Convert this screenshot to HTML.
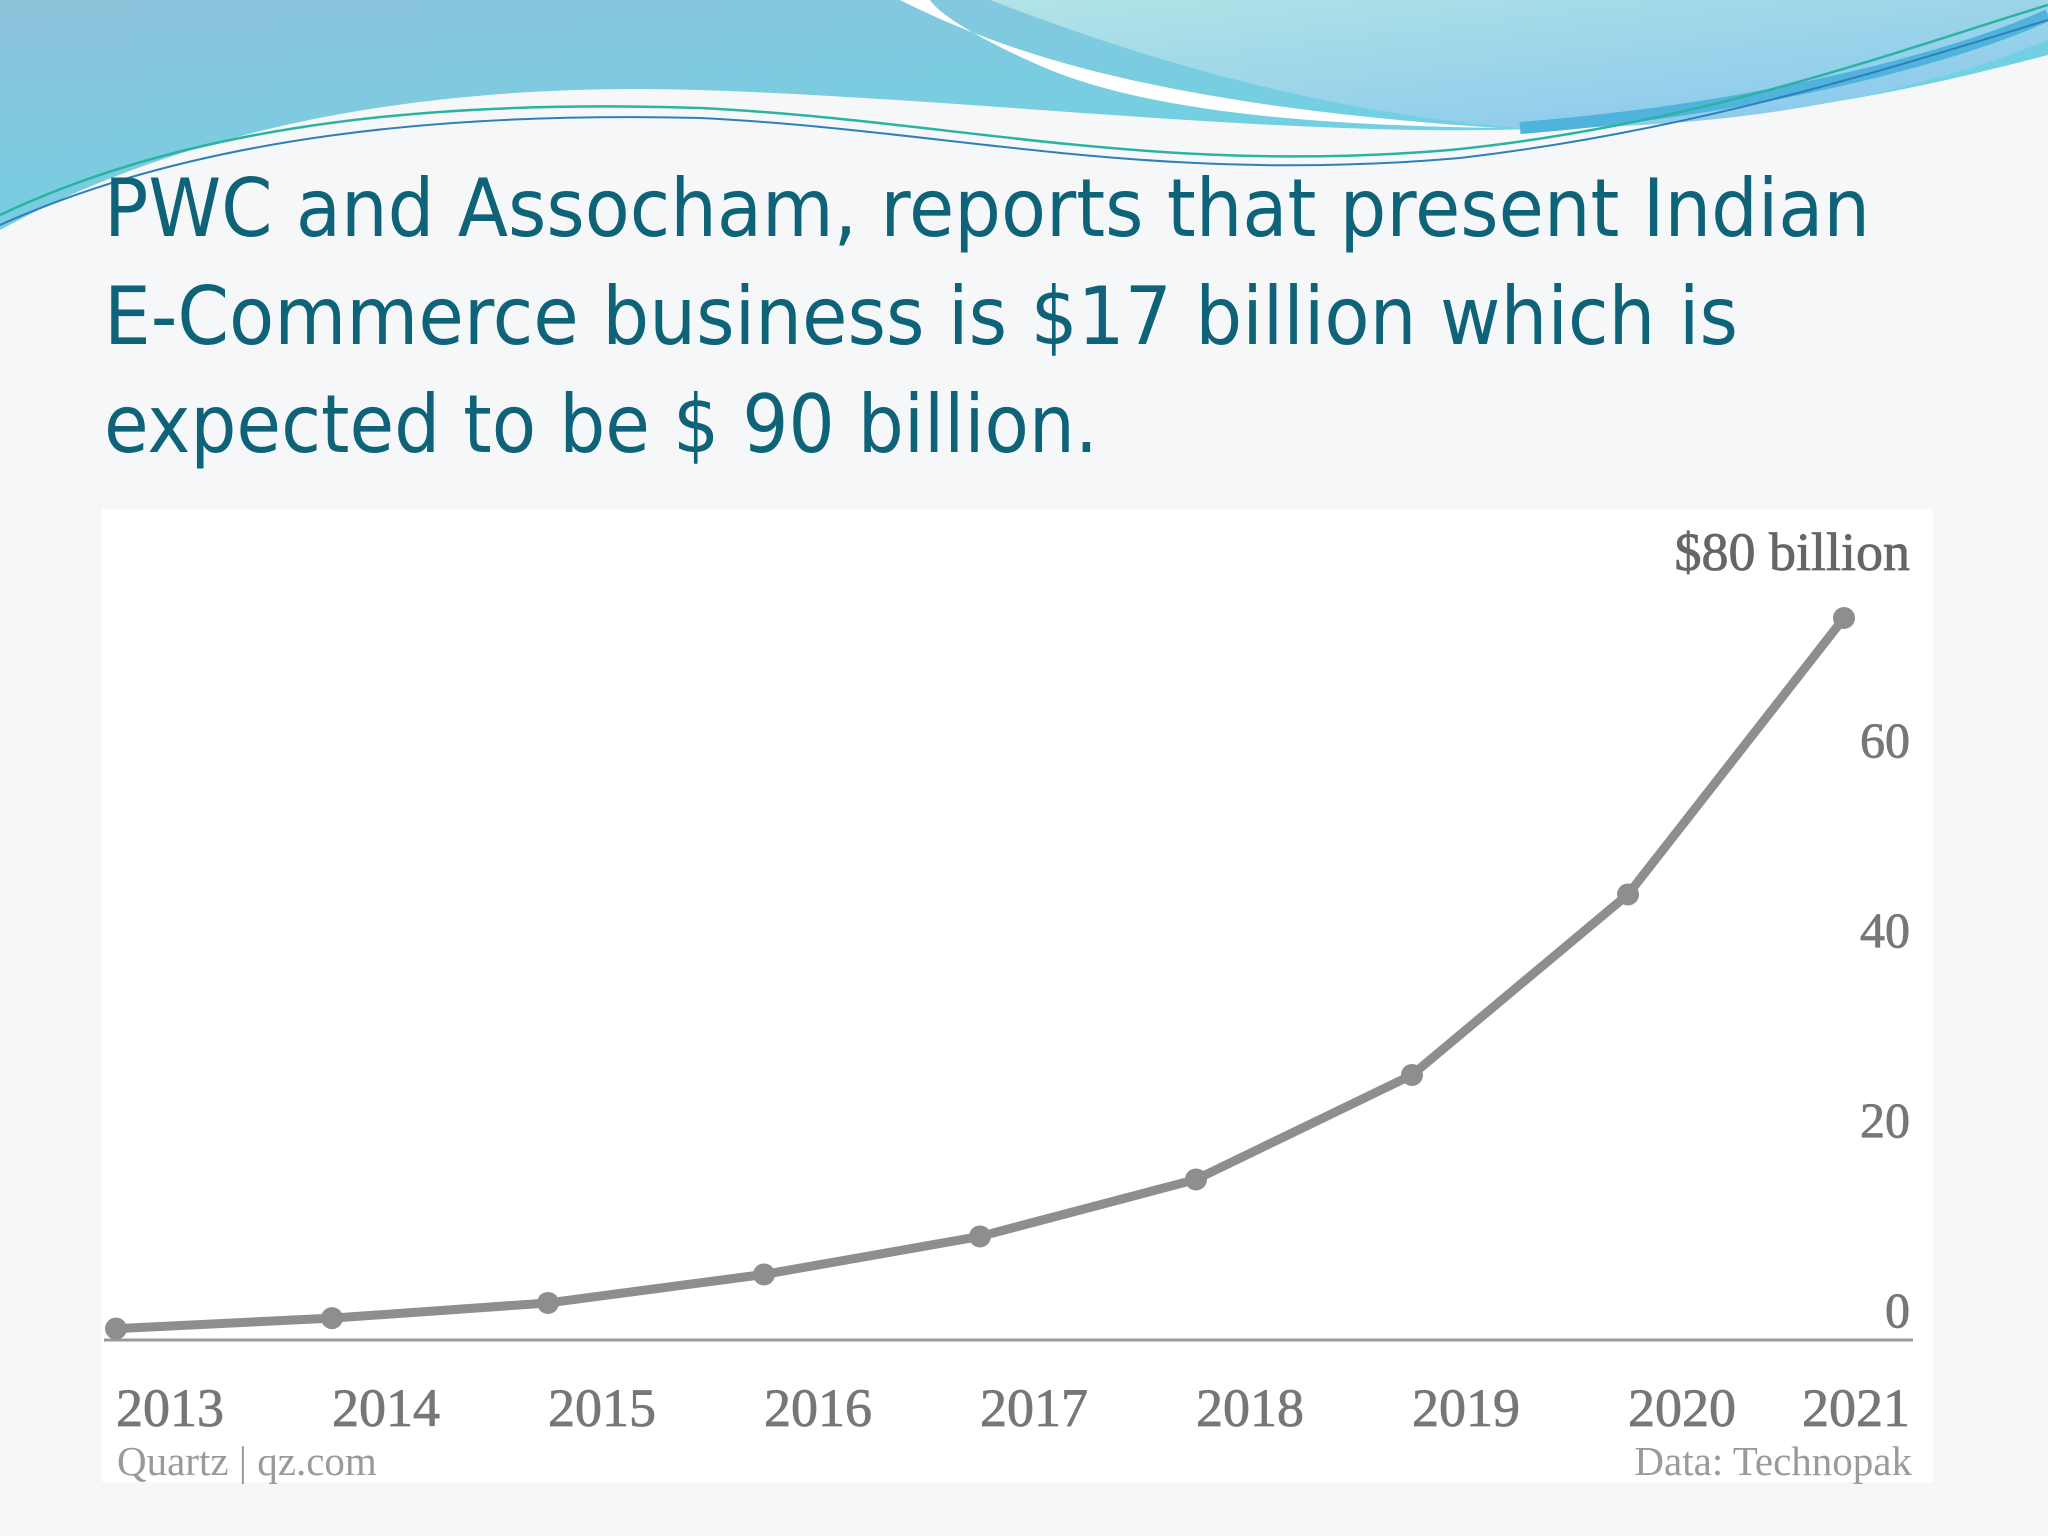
<!DOCTYPE html>
<html><head><meta charset="utf-8"><style>
html,body{margin:0;padding:0;width:2048px;height:1536px;overflow:hidden;background:#f6f7f9;}
svg{display:block}
</style></head><body>
<svg width="2048" height="1536" viewBox="0 0 2048 1536">
<defs>
<linearGradient id="g1" x1="0" y1="0" x2="1" y2="1"><stop offset="0" stop-color="#8ec3dc"/><stop offset="0.6" stop-color="#72d0e2"/><stop offset="1" stop-color="#6fdbe6"/></linearGradient>
<linearGradient id="g2" x1="0" y1="0" x2="1" y2="1"><stop offset="0" stop-color="#b2e4e6"/><stop offset="1" stop-color="#86c6ee"/></linearGradient>
</defs>
<rect x="0" y="0" width="2048" height="1536" fill="#f6f7f9"/>
<g>
<path d="M0,0 H2048 V55 C1950,80 1800,120 1560,128 C1300,140 1000,100 700,90 C450,82 200,120 0,230 Z" fill="url(#g1)"/>
<path d="M900,0 C1000,50 1150,105 1500,128 C1300,125 1150,110 1050,70 C980,40 940,15 930,0 Z" fill="#ffffff"/>
<path d="M990,0 H2048 V40 C1950,80 1780,130 1520,128 C1300,110 1120,50 990,0 Z" fill="url(#g2)"/>
<path d="M1520,128 C1750,110 1950,60 2048,15" stroke="#4fb3dc" stroke-width="12" fill="none"/>
<path d="M0,215 C200,120 450,100 700,108 C950,120 1150,175 1450,150 C1700,125 1900,50 2048,5" stroke="#2bb3a0" stroke-width="2.5" fill="none"/>
<path d="M0,225 C200,135 450,112 700,118 C950,130 1150,185 1460,158 C1700,130 1900,65 2048,20" stroke="#2f7fb8" stroke-width="2" fill="none"/>
</g>
<g font-family="'DejaVu Sans','Liberation Sans',sans-serif" font-size="80" fill="#0f6378">
<text x="104" y="236" textLength="1766" lengthAdjust="spacingAndGlyphs">PWC and Assocham, reports that present Indian</text>
<text x="104" y="344" textLength="1634" lengthAdjust="spacingAndGlyphs">E-Commerce  business is $17 billion which is</text>
<text x="104" y="452" textLength="994" lengthAdjust="spacingAndGlyphs">expected to be $ 90 billion.</text>
</g>
<rect x="102" y="509" width="1831" height="973" fill="#ffffff"/>
<g id="chart"></g>
</svg>
<script>
const years = ["2013","2014","2015","2016","2017","2018","2019","2020","2021"];
const values = [1.2, 2.3, 3.9, 6.9, 10.9, 16.9, 27.9, 46.9, 76];
const yTicks = [0, 20, 40, 60];
const yTickLabels = ["0", "20", "40", "60"];
const NS = "http://www.w3.org/2000/svg";
const g = document.getElementById("chart");
const x0 = 116, x1 = 1844, yBase = 1340, perUnit = 9.5;
function xs(i){ return x0 + (x1 - x0) * i / (years.length - 1); }
function ys(v){ return yBase - v * perUnit; }
function mk(tag, attrs){ const e = document.createElementNS(NS, tag); for (const k in attrs) e.setAttribute(k, attrs[k]); g.appendChild(e); return e; }
const FONT = "'Liberation Serif',serif";
const axis = mk("line", {x1:104, x2:1913, y1:yBase, y2:yBase, stroke:"#9a9a9a", "stroke-width":3});


yTicks.forEach((t, i) => {
  const tx = mk("text", {x:1910, y:ys(t) - 13, "text-anchor":"end", "font-family":FONT, "font-size":50, fill:"#777", stroke:"#777", "stroke-width":0.8});
  tx.textContent = yTickLabels[i];
  
  
});
const unit = mk("text", {x:1910, y:570, "text-anchor":"end", "font-family":FONT, "font-size":54, fill:"#666", stroke:"#666", "stroke-width":0.8});
unit.textContent = "$80 billion";


const pts = values.map((v, i) => xs(i) + "," + ys(v)).join(" ");
const line = mk("polyline", {points:pts, fill:"none", stroke:"#8e8e8e", "stroke-width":9, "stroke-linejoin":"round", "stroke-linecap":"round"});


values.forEach((v, i) => {
  const c = mk("circle", {cx:xs(i), cy:ys(v), r:11, fill:"#8e8e8e"});
  
  
});
years.forEach((y, i) => {
  const last = i === years.length - 1;
  const t = mk("text", {x: last ? 1910 : xs(i), y:1426, "text-anchor": last ? "end" : "start", "font-family":FONT, "font-size":54, fill:"#777", stroke:"#777", "stroke-width":0.8});
  t.textContent = y;
  
  
});
const src1 = mk("text", {x:117, y:1475, "font-family":FONT, "font-size":41, fill:"#9a9a9a"});
src1.textContent = "Quartz | qz.com";


const src2 = mk("text", {x:1912, y:1475, "text-anchor":"end", "font-family":FONT, "font-size":41, fill:"#9a9a9a"});
src2.textContent = "Data: Technopak";


</script>
</body></html>
